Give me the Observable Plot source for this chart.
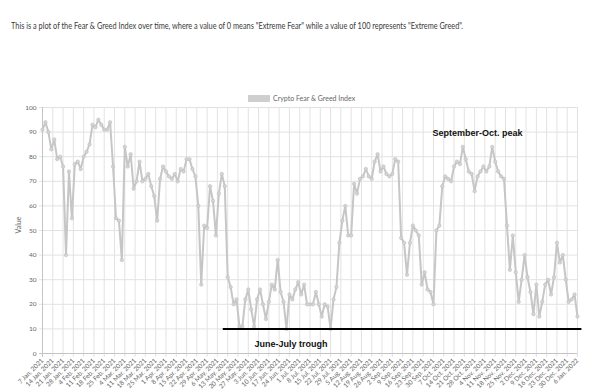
<!DOCTYPE html>
<html><head><meta charset="utf-8">
<script src="https://cdn.jsdelivr.net/npm/d3@7"></script>
<script src="https://cdn.jsdelivr.net/npm/@observablehq/plot@0.6"></script>
<style>
body{margin:0;background:#fff;width:600px;height:390px;overflow:hidden;position:relative;font-family:Lato, sans-serif;}
#sub{position:absolute;left:11px;top:19px;font-size:10px;color:#3a3a3a;white-space:nowrap;transform-origin:0 0;}
#legend{position:absolute;left:248px;top:94px;font-size:7px;color:#666;display:flex;align-items:center;white-space:nowrap;}
#legend .box{width:22px;height:7px;background:#cfcfcf;margin-right:3px;}
#ylab{position:absolute;left:18px;top:225px;font-size:7px;color:#666;transform:translate(-50%,-50%) rotate(-90deg);}
#chart{position:absolute;left:0;top:102px;}
</style></head>
<body>
<div id="sub"></div>
<div id="legend"><span class="box"></span><span id="legtext"></span></div>
<div id="ylab"></div>
<div id="chart"></div>
<script>
const subtitle = 'This is a plot of the Fear & Greed Index over time, where a value of 0 means "Extreme Fear" while a value of 100 represents "Extreme Greed".';
const seriesName = "Crypto Fear & Greed Index";
const yLabel = "Value";
const startDate = "2021-01-07";
const stepDays = 2;
const values = [91,94,90,83,87,79,80,76,40,74,55,77,78,75,80,82,85,93,92,95,
93,91,91,94,76,55,54,38,84,76,81,67,70,78,70,71,73,68,64,54,
71,76,74,72,71,73,70,75,74,79,79,75,72,60,28,52,51,68,62,48,
65,73,68,31,27,20,22,11,11,22,26,18,11,22,26,20,14,21,28,26,
38,25,21,10,24,22,26,29,24,28,20,20,20,25,20,15,20,19,10,22,
27,45,54,60,48,48,69,65,71,72,75,72,71,78,81,74,76,73,72,73,
79,78,47,45,32,45,52,50,48,28,33,26,25,20,50,52,68,72,71,70,
76,78,77,84,79,74,73,66,72,74,76,74,76,84,78,74,72,71,52,34,
48,33,21,30,40,31,25,16,28,15,21,28,30,24,31,45,37,40,30,21,
22,24,15];
const tickLabels = ["7 Jan. 2021","14 Jan. 2021","21 Jan. 2021","28 Jan. 2021","4 Feb. 2021","11 Feb. 2021","18 Feb. 2021","25 Feb. 2021","4 Mar. 2021","11 Mar. 2021","18 Mar. 2021","25 Mar. 2021","1 Apr. 2021","8 Apr. 2021","15 Apr. 2021","22 Apr. 2021","29 Apr. 2021","6 May. 2021","13 May. 2021","20 May. 2021","27 May. 2021","3 Jun. 2021","10 Jun. 2021","17 Jun. 2021","24 Jun. 2021","1 Jul. 2021","8 Jul. 2021","15 Jul. 2021","22 Jul. 2021","29 Jul. 2021","5 Aug. 2021","12 Aug. 2021","19 Aug. 2021","26 Aug. 2021","2 Sep. 2021","9 Sep. 2021","16 Sep. 2021","23 Sep. 2021","30 Sep. 2021","7 Oct. 2021","14 Oct. 2021","21 Oct. 2021","28 Oct. 2021","4 Nov. 2021","11 Nov. 2021","18 Nov. 2021","25 Nov. 2021","2 Dec. 2021","9 Dec. 2021","16 Dec. 2021","23 Dec. 2021","30 Dec. 2021","6 Jan. 2022"];
const yTicks = [0,10,20,30,40,50,60,70,80,90,100];
const troughLine = [{from:"2021-05-10", to:"2022-01-09", value:10}];
const notes = [
  {date:"2021-06-25", value:3.7, text:"June-July trough"},
  {date:"2021-10-30", value:89.7, text:"September-Oct. peak"}
];

document.getElementById("sub").textContent = subtitle;
document.getElementById("legtext").textContent = seriesName;
document.getElementById("ylab").textContent = yLabel;

const start = new Date(startDate + "T00:00:00Z");
const data = values.map((v,i)=>({date:new Date(+start + i*stepDays*864e5), value:v}));
const parse = d3.utcParse("%d %b. %Y");
const tickDates = tickLabels.map(parse);
const labelOf = new Map(tickDates.map((d,i)=>[+d, tickLabels[i]]));
const first = tickDates[0], last = tickDates[tickDates.length-1];
const grid = "#e2e2e2";

const chart = Plot.plot({
  width:600, height:288,
  marginLeft:42, marginRight:23, marginTop:5, marginBottom:37,
  style:{fontFamily:"Lato, sans-serif", fontSize:"6.5px", color:"#666", background:"transparent", overflow:"visible"},
  x:{type:"utc", domain:[first,last], ticks:tickDates, tickFormat:d=>labelOf.get(+d), tickRotate:-45, tickSize:0, tickPadding:6, label:null},
  y:{domain:[0,100], ticks:yTicks, tickSize:0, tickPadding:6, label:null},
  marks:[
    Plot.ruleX(tickDates, {y1:-1.6, y2:100, stroke:grid, strokeWidth:1}),
    Plot.ruleY(yTicks, {x1:new Date(+first - 2*864e5), x2:last, stroke:grid, strokeWidth:1}),
    Plot.ruleX([first], {y1:-1.6, y2:100, stroke:"#c4c4c4"}),
    Plot.ruleY([0], {x1:new Date(+first - 2*864e5), x2:last, stroke:"#c4c4c4"}),
    Plot.line(data, {x:"date", y:"value", stroke:"#c6c6c6", strokeWidth:2}),
    Plot.dot(data, {x:"date", y:"value", r:1.7, fill:"#d4d4d4", stroke:"#bdbdbd", strokeWidth:0.6}),
    Plot.ruleY(troughLine, {y:"value", x1:d=>new Date(d.from), x2:d=>new Date(d.to), stroke:"#000", strokeWidth:2}),
    Plot.text(notes, {x:d=>new Date(d.date), y:"value", text:"text", fontWeight:"bold", fontSize:9, fill:"#111", fontFamily:"Liberation Sans, Arial, sans-serif"})
  ]
});
document.getElementById("chart").appendChild(chart);

const sub = document.getElementById("sub");
const w = sub.getBoundingClientRect().width;
sub.style.transform = `scaleX(${452 / w})`;
</script>
</body></html>
